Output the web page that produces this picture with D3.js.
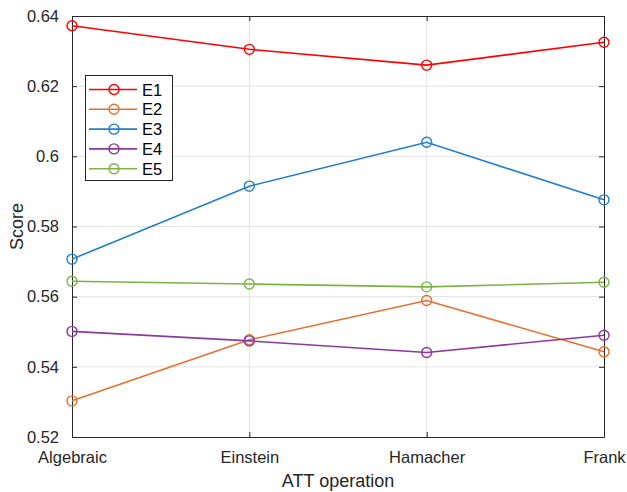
<!DOCTYPE html>
<html>
<head>
<meta charset="utf-8">
<script src="https://cdn.jsdelivr.net/npm/d3@7"></script>
<style>
  html, body { margin: 0; padding: 0; background: #fff; }
  svg { display: block; font-family: "Liberation Sans", Arial, Helvetica, sans-serif; }
</style>
</head>
<body>
<svg id="chart" width="627" height="492"></svg>
<script>
// Categories on the x axis
const categories = ["Algebraic", "Einstein", "Hamacher", "Frank"];
// Series names and their scores per ATT operation
const seriesNames = ["E1", "E2", "E3", "E4", "E5"];
const E1 = [0.6372, 0.6305, 0.6260, 0.6325];
const E2 = [0.5303, 0.5477, 0.5589, 0.5443];
const E3 = [0.5707, 0.5915, 0.6040, 0.5876];
const E4 = [0.5501, 0.5474, 0.5441, 0.5490];
const E5 = [0.5644, 0.5636, 0.5628, 0.5641];
const seriesColors = ["#ff0000", "#e8702f", "#1f7fc8", "#8a3aa0", "#7cb342"];
const yTicks = [0.52, 0.54, 0.56, 0.58, 0.6, 0.62, 0.64];
const yTickLabels = ["0.52", "0.54", "0.56", "0.58", "0.6", "0.62", "0.64"];

const series = [E1, E2, E3, E4, E5].map((values, i) => ({
  name: seriesNames[i], values, color: seriesColors[i]
}));

const svg = d3.select("#chart");
const plotLeft = 72, plotRight = 604, plotTop = 16, plotBottom = 437;

const x = d3.scalePoint().domain(categories).range([plotLeft, plotRight]);
const y = d3.scaleLinear().domain([0.52, 0.64]).range([plotBottom, plotTop]);

const axisColor = "#262626";
const gridColor = "#e3e3e3";
const tickFont = 16.5;

// Grid lines
const grid = svg.append("g");
grid.selectAll("line.gy").data(yTicks.slice(1, -1)).join("line")
  .attr("x1", plotLeft).attr("x2", plotRight)
  .attr("y1", d => y(d)).attr("y2", d => y(d))
  .attr("stroke", gridColor).attr("stroke-width", 1);
grid.selectAll("line.gx").data(categories.slice(1, -1)).join("line")
  .attr("x1", d => x(d)).attr("x2", d => x(d))
  .attr("y1", plotTop).attr("y2", plotBottom)
  .attr("stroke", gridColor).attr("stroke-width", 1);

// Axes with inward ticks
const tickLen = 5;
const yAxis = d3.axisLeft(y).tickValues(yTicks).tickFormat((d, i) => yTickLabels[i]).tickSizeInner(-tickLen).tickSizeOuter(0).tickPadding(13);
const yAxisR = d3.axisRight(y).tickValues(yTicks).tickFormat("").tickSizeInner(-tickLen).tickSizeOuter(0);
const xAxis = d3.axisBottom(x).tickSizeInner(-tickLen).tickSizeOuter(0).tickPadding(14);
const xAxisT = d3.axisTop(x).tickFormat("").tickSizeInner(-tickLen).tickSizeOuter(0);

function styleAxis(g) {
  g.select(".domain").attr("stroke", axisColor).attr("stroke-width", 1);
  g.selectAll(".tick line").attr("stroke", axisColor);
  g.selectAll(".tick text").attr("fill", axisColor).attr("font-size", tickFont)
    .attr("font-family", "'Liberation Sans', Arial, Helvetica, sans-serif");
}
svg.append("g").attr("transform", `translate(${plotLeft},0)`).call(yAxis).call(styleAxis);
svg.append("g").attr("transform", `translate(${plotRight},0)`).call(yAxisR).call(styleAxis);
svg.append("g").attr("transform", `translate(0,${plotBottom})`).call(xAxis).call(styleAxis);
svg.append("g").attr("transform", `translate(0,${plotTop})`).call(xAxisT).call(styleAxis);

// Axis titles
svg.append("text").attr("x", (plotLeft + plotRight) / 2).attr("y", 487)
  .attr("text-anchor", "middle").attr("font-size", 18).attr("fill", axisColor)
  .text("ATT operation");
svg.append("text").attr("transform", `translate(23,${(plotTop + plotBottom) / 2}) rotate(-90)`)
  .attr("text-anchor", "middle").attr("font-size", 18).attr("fill", axisColor)
  .text("Score");

// Lines and circle markers
const line = d3.line().x((d, i) => x(categories[i])).y(d => y(d));
const plot = svg.append("g");
series.forEach(s => {
  plot.append("path").datum(s.values).attr("d", line)
    .attr("fill", "none").attr("stroke", s.color).attr("stroke-width", 1.6);
  plot.selectAll(null).data(s.values).join("circle")
    .attr("cx", (d, i) => x(categories[i])).attr("cy", d => y(d)).attr("r", 5)
    .attr("fill", "none").attr("stroke", s.color).attr("stroke-width", 1.4);
});

// Legend
const lg = svg.append("g");
lg.append("rect").attr("x", 85.5).attr("y", 75.5).attr("width", 87).attr("height", 105)
  .attr("fill", "#fff").attr("stroke", axisColor).attr("stroke-width", 1);
series.forEach((s, i) => {
  const yy = 89.5 + i * 19.8;
  lg.append("line").attr("x1", 89).attr("x2", 137).attr("y1", yy).attr("y2", yy)
    .attr("stroke", s.color).attr("stroke-width", 1.6);
  lg.append("circle").attr("cx", 114).attr("cy", yy).attr("r", 5)
    .attr("fill", "none").attr("stroke", s.color).attr("stroke-width", 1.4);
  lg.append("text").attr("x", 142).attr("y", yy + 6).attr("font-size", 16.5)
    .attr("fill", "#000").text(s.name);
});
</script>
</body>
</html>
